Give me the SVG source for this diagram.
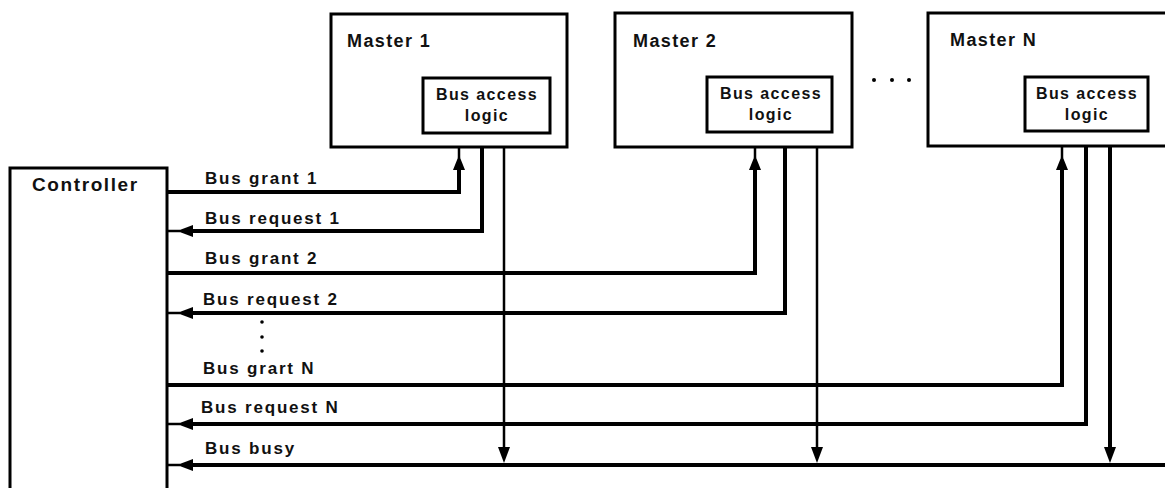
<svg xmlns="http://www.w3.org/2000/svg" width="1165" height="488" viewBox="0 0 1165 488">
<style>
.box{fill:#fff;stroke:#000;stroke-width:3}
.inner{fill:#fff;stroke:#000;stroke-width:3}
.thick{fill:none;stroke:#000;stroke-width:4;stroke-linejoin:miter}
.thin{fill:none;stroke:#000;stroke-width:2.5}
.lbl{font-family:"Liberation Sans",Arial,sans-serif;font-size:17px;font-weight:bold;fill:#111;letter-spacing:1.8px}
.title{font-family:"Liberation Sans",Arial,sans-serif;font-size:18px;font-weight:bold;fill:#111;letter-spacing:1.4px}
.bal{font-family:"Liberation Sans",Arial,sans-serif;font-size:16px;font-weight:bold;fill:#111;text-anchor:middle;letter-spacing:1.4px}
.ah{fill:#000}
</style>
<rect width="1165" height="488" fill="#fff"/>
<g id="controller">
<rect class="box" x="10" y="168" width="157" height="330"/>
<text class="title" x="32" y="191" style="font-size:19px;letter-spacing:1.6px">Controller</text>
</g>
<g id="master1">
<rect class="box" x="331" y="14" width="236" height="133"/>
<text class="title" x="347" y="47">Master 1</text>
<rect class="inner" x="423" y="78" width="127" height="55"/>
<text class="bal" x="487" y="100">Bus access</text>
<text class="bal" x="487" y="121">logic</text>
</g>
<g id="master2">
<rect class="box" x="615" y="13" width="237" height="134"/>
<text class="title" x="633" y="47">Master 2</text>
<rect class="inner" x="707" y="77" width="125" height="55"/>
<text class="bal" x="771" y="99">Bus access</text>
<text class="bal" x="771" y="120">logic</text>
</g>
<g id="ellipsis">
<circle cx="874" cy="80" r="2" fill="#000"/>
<circle cx="892" cy="80" r="2" fill="#000"/>
<circle cx="909" cy="80" r="2" fill="#000"/>
</g>
<g id="masterN">
<rect class="box" x="928" y="13" width="250" height="133"/>
<text class="title" x="950" y="46">Master N</text>
<rect class="inner" x="1025" y="77" width="123" height="54"/>
<text class="bal" x="1087" y="99">Bus access</text>
<text class="bal" x="1087" y="120">logic</text>
</g>
<g id="connectors">
<polyline class="thick" points="167,192 459,192 459,168"/>
<line class="thin" x1="459" y1="158" x2="459" y2="147" stroke-width="2"/>
<polygon class="ah" points="459,155 453,170 465,170"/>
<polyline class="thick" points="167,273 755,273 755,168"/>
<line class="thin" x1="755" y1="158" x2="755" y2="147" stroke-width="2"/>
<polygon class="ah" points="755,155 749,170 761,170"/>
<polyline class="thick" points="167,385 1062,385 1062,168"/>
<line class="thin" x1="1062" y1="158" x2="1062" y2="146" stroke-width="2"/>
<polygon class="ah" points="1062,155 1056,170 1068,170"/>
<polyline class="thick" points="482,147 482,231 190,231"/>
<line class="thin" x1="180" y1="231" x2="167" y2="231" stroke-width="2"/>
<polygon class="ah" points="177,231 193,225 193,237"/>
<polyline class="thick" points="785,147 785,313 190,313"/>
<line class="thin" x1="180" y1="313" x2="167" y2="313" stroke-width="2"/>
<polygon class="ah" points="177,313 193,307 193,319"/>
<polyline class="thick" points="1086,146 1086,424 190,424"/>
<line class="thin" x1="180" y1="424" x2="167" y2="424" stroke-width="2"/>
<polygon class="ah" points="177,424 193,418 193,430"/>
<line class="thick" x1="190" y1="465" x2="1165" y2="465"/>
<line class="thin" x1="180" y1="465" x2="167" y2="465" stroke-width="2"/>
<polygon class="ah" points="177,465 193,459 193,471"/>
<line class="thin" x1="504" y1="147" x2="504" y2="450"/>
<polygon class="ah" points="504,463 498,447 510,447"/>
<line class="thin" x1="817" y1="147" x2="817" y2="450"/>
<polygon class="ah" points="817,463 811,447 823,447"/>
<line class="thick" x1="1110" y1="146" x2="1110" y2="450"/>
<polygon class="ah" points="1110,463 1104,447 1116,447"/>
</g>
<g id="labels">
<text class="lbl" x="205" y="184">Bus grant 1</text>
<text class="lbl" x="205" y="224">Bus request 1</text>
<text class="lbl" x="205" y="264">Bus grant 2</text>
<text class="lbl" x="203" y="305">Bus request 2</text>
<circle cx="262" cy="322" r="1.8" fill="#000"/>
<circle cx="262" cy="337" r="1.8" fill="#000"/>
<circle cx="262" cy="351" r="1.8" fill="#000"/>
<text class="lbl" x="203" y="374">Bus grart N</text>
<text class="lbl" x="201" y="413">Bus request N</text>
<text class="lbl" x="205" y="454">Bus busy</text>
</g>
</svg>
